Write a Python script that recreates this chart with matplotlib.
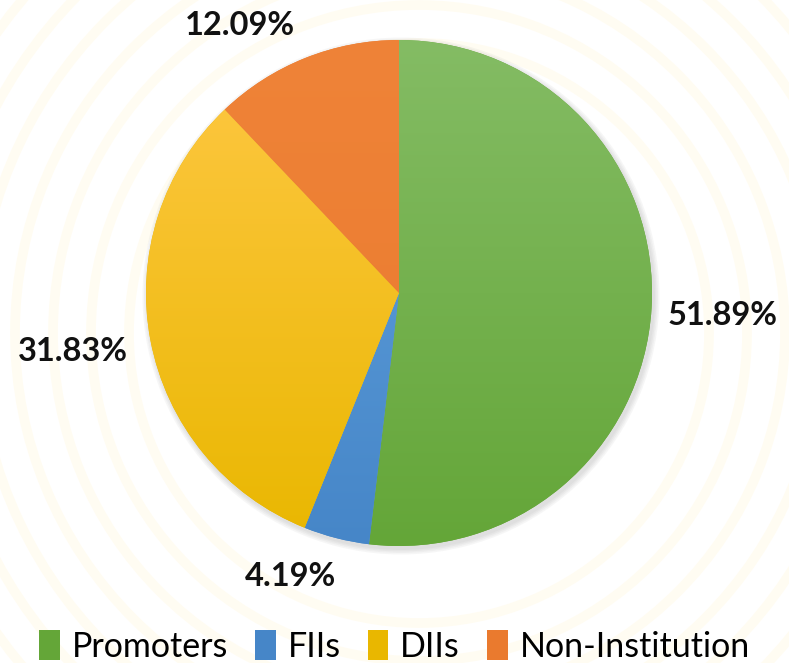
import numpy as np
import matplotlib.pyplot as plt
from matplotlib.colors import LinearSegmentedColormap
from matplotlib.patches import Circle

# --- DATA ---

labels = ['Promoters', 'FIIs', 'DIIs', 'Non-Institution']
shares = [51.89, 4.19, 31.83, 12.09]

# top / bottom colours of each slice gradient
top_colors = ['#84BC64', '#62A3DE', '#FFC845', '#EF8338']
bottom_colors = ['#64A638', '#4686C8', '#E9B700', '#EA7A2E']

# label distance (in radii) and angular nudge (deg) for each slice
label_dist = [1.28, 1.20, 1.31, 1.23]
label_nudge = [-0.5, -6.5, -0.6, 9.0]

# --- FIGURE ---

W, H = 789, 663
fig = plt.figure(figsize=(W / 100, H / 100), dpi=100)
ax = fig.add_axes([0, 0, 1, 1])

cx, cy, R = 399, H - 293, 253

# faint decorative rings behind the chart
for r in np.arange(290, 760, 38):
    ax.add_patch(Circle((cx + 20, cy - 40), r, fill=False, lw=7,
                        color='#FFF4C4', alpha=0.22, zorder=0))

# soft shadow under the pie
for k in range(4):
    ax.add_patch(Circle((cx + 2, cy - 3), R + 1 + k * 1.5, color='#606060',
                        alpha=0.05, lw=0, zorder=1))

wedges, _ = ax.pie(shares, startangle=90, counterclock=False,
                   center=(cx, cy), radius=R, frame=True,
                   wedgeprops=dict(linewidth=0))

# vertical gradient fill clipped to each wedge
grad = np.linspace(0, 1, 256).reshape(-1, 1)
for w, c0, c1 in zip(wedges, top_colors, bottom_colors):
    w.set_facecolor(c1)
    w.set_zorder(2)
    cmap = LinearSegmentedColormap.from_list('g', [c0, c1])
    im = ax.imshow(grad, cmap=cmap, aspect='auto', origin='upper',
                   extent=(cx - R, cx + R, cy - R, cy + R), zorder=3)
    im.set_clip_path(w)

# percentage labels outside the slices
for w, v, d, n in zip(wedges, shares, label_dist, label_nudge):
    ang = np.deg2rad((w.theta1 + w.theta2) / 2 + n)
    ax.text(cx + d * R * np.cos(ang), cy + d * R * np.sin(ang), f'{v:.2f}%',
            ha='center', va='center', fontsize=23.5, fontweight='bold',
            family=['Lato', 'DejaVu Sans'], color='#111111', zorder=5)

ax.set_xlim(0, W)
ax.set_ylim(0, H)
ax.set_aspect('equal')
ax.axis('off')

leg = ax.legend(wedges, labels, loc='lower center', bbox_to_anchor=(0.5, -0.046),
                ncol=4, frameon=False, handlelength=0.6, handleheight=1.0,
                handletextpad=0.35, columnspacing=0.8,
                prop=dict(family=['Lato'], size=24.5))
for h, c in zip(leg.legend_handles, bottom_colors):
    h.set_facecolor(c)

fig.savefig('out.png', dpi=100, facecolor='white')
